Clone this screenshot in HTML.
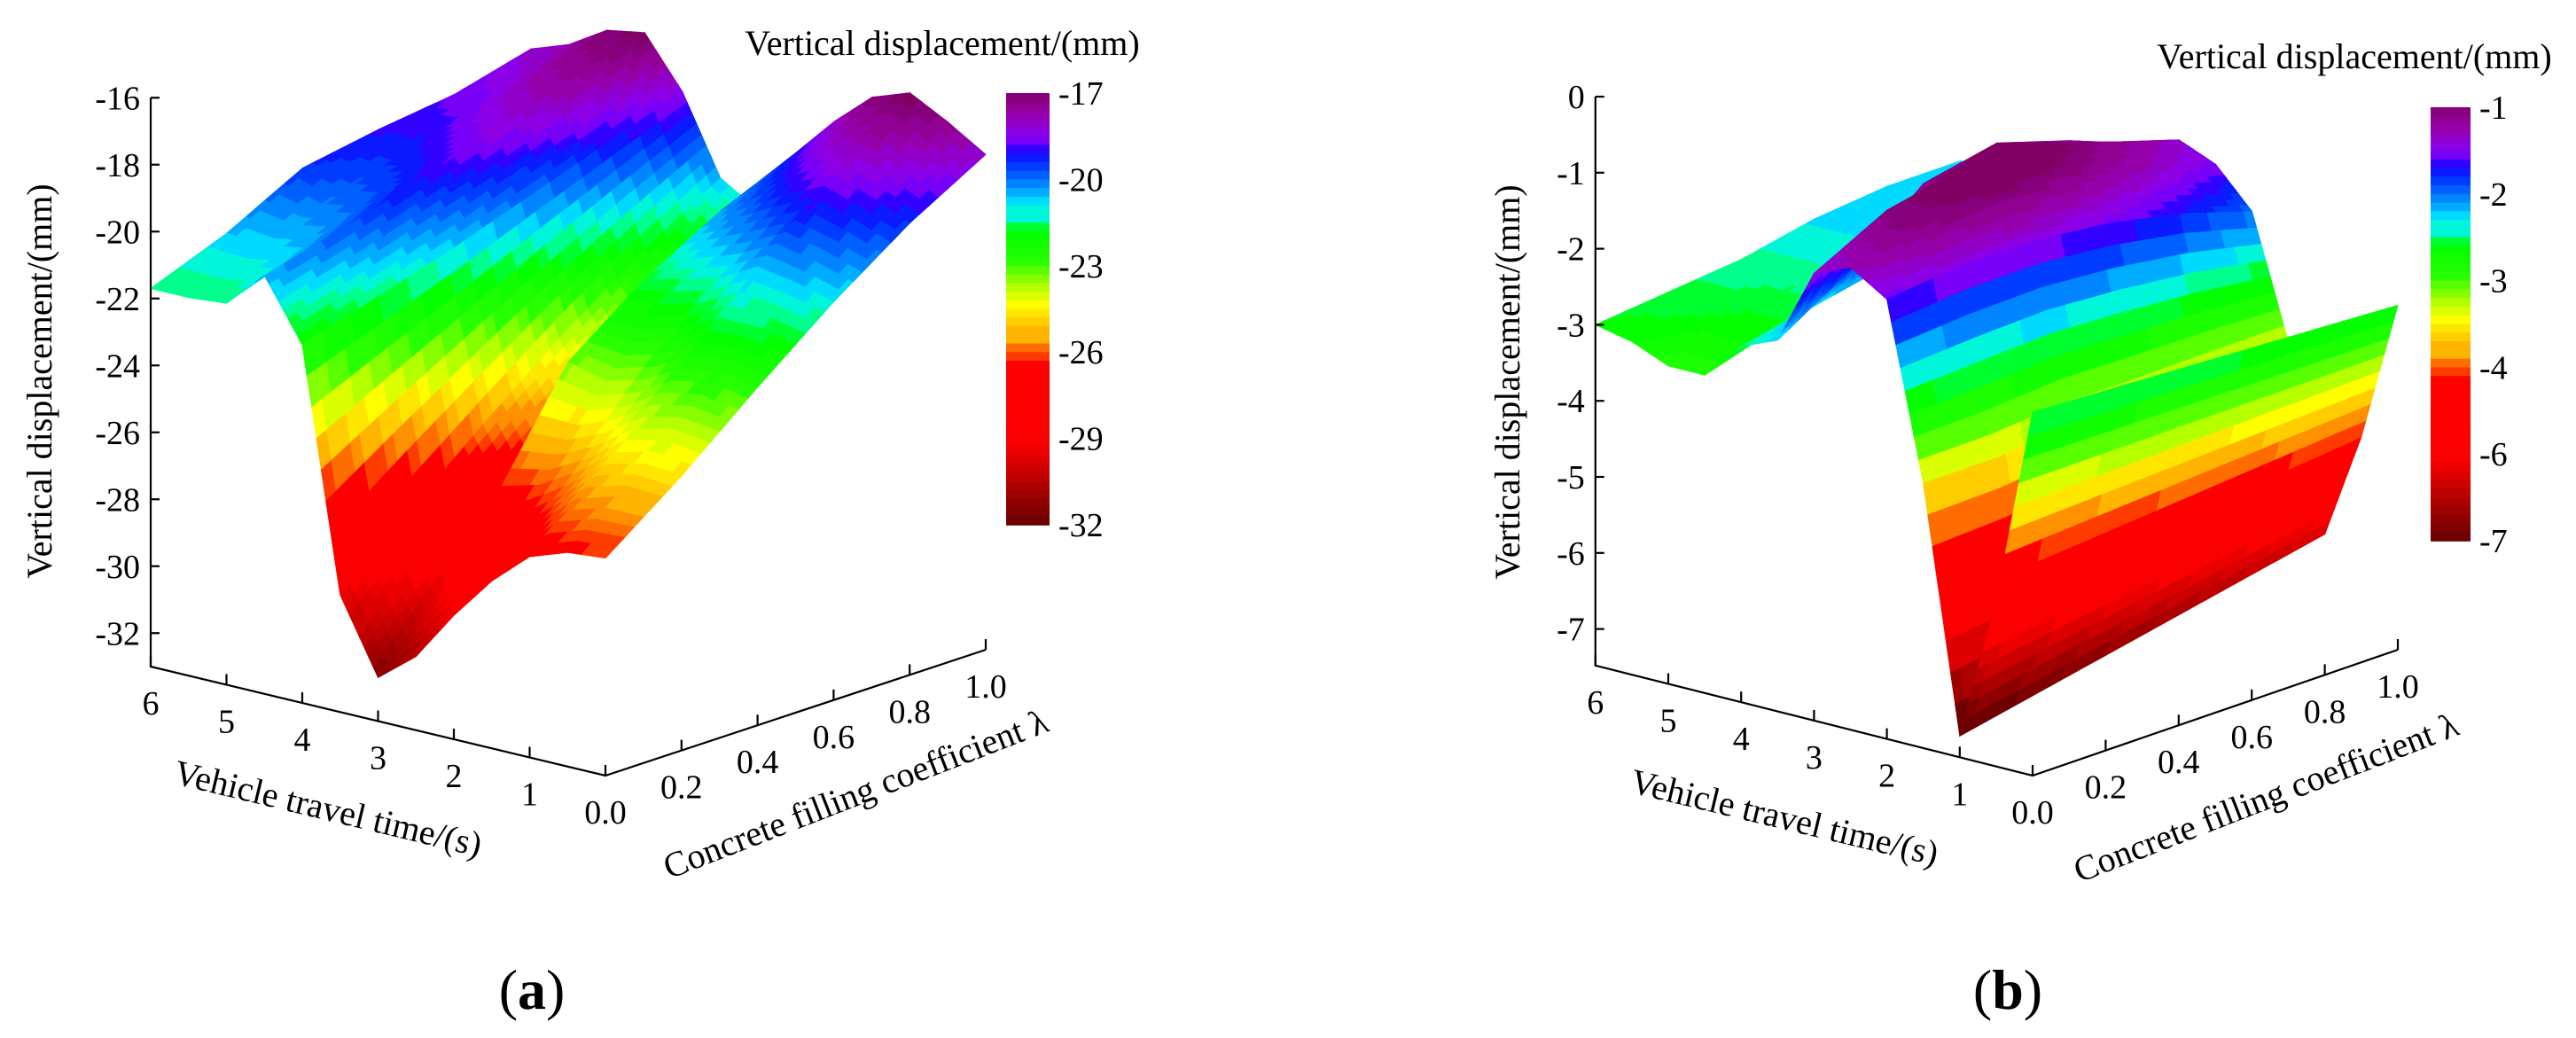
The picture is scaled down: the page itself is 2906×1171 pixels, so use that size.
<!DOCTYPE html>
<html><head><meta charset="utf-8"><style>
html,body{margin:0;padding:0;background:#fff;overflow:hidden;width:2906px;height:1171px;}
svg{display:block;}
svg text{font-family:"Liberation Serif",serif;fill:#000;}
</style></head><body>
<svg id="root" width="2906" height="1171" viewBox="0 0 2906 1171" xmlns="http://www.w3.org/2000/svg">
<g id="pa"></g>
<g id="pb"></g>
</svg>
<script>
// ---- data ----
const timeValues = [0,0.5,1,1.5,2,2.5,3,3.5,4,4.5,5,5.5,6];
const lambdaValues = [0,0.2,0.4,0.6,0.8,1.0];
const surfaceA = [
 [-26.5,-26.6,-27.0,-28.0,-29.3,-30.8,-31.7,-29.5,-22.3,-20.5,-21.6,-21.7,-21.7],
 [-24.8,-24.7,-25.0,-25.9,-26.6,-27.0,-29.2,-27.5,-21.6,-19.9,-20.7,-20.9,-20.8],
 [-22.9,-22.7,-22.9,-23.5,-23.8,-23.5,-27.5,-25.6,-20.9,-19.2,-19.8,-20.0,-19.6],
 [-21.1,-20.8,-20.6,-21.2,-21.5,-21.8,-25.5,-23.8,-20.1,-18.5,-18.9,-19.3,-19.2],
 [-19.5,-19.0,-18.6,-19.1,-19.8,-20.5,-23.5,-22.2,-19.3,-17.7,-18.0,-18.6,-18.9],
 [-18.2,-17.5,-16.9,-17.3,-18.3,-19.5,-21.5,-20.8,-18.5,-17.0,-17.2,-17.9,-18.3]
];
const surfaceB = [
 [-2.70,-5.3,-7.2,-4.0,-1.7,-1.4,-1.6,-2.6,-2.8,-3.3,-3.3,-3.1,-3.0],
 [-2.75,-5.2,-7.0,-4.0,-1.6,-1.1,-1.1,-2.0,-2.6,-3.0,-3.0,-2.9,-2.9],
 [-2.80,-5.1,-6.8,-3.9,-1.6,-1.0,-0.9,-1.2,-2.4,-2.7,-2.8,-2.8,-2.8],
 [-2.85,-5.0,-6.6,-3.9,-1.7,-1.1,-0.9,-1.0,-2.0,-2.5,-2.6,-2.6,-2.6],
 [-2.90,-4.9,-6.4,-3.85,-1.9,-1.4,-1.2,-1.3,-2.1,-2.4,-2.5,-2.5,-2.5],
 [-2.95,-4.8,-6.2,-3.8,-2.2,-1.7,-1.5,-1.8,-2.2,-2.4,-2.5,-2.5,-2.5]
];
const zTicksA = [-16,-18,-20,-22,-24,-26,-28,-30,-32];
const zTicksB = [0,-1,-2,-3,-4,-5,-6,-7];
const timeTicks = [1,2,3,4,5,6];
const lambdaTicks = [0.0,0.2,0.4,0.6,0.8,1.0];
const cbarLabelsA = ["-17","-20","-23","-26","-29","-32"];
const cbarLabelsB = ["-1","-2","-3","-4","-6","-7"];

const NS="http://www.w3.org/2000/svg";
const stops=[[0,[128,0,100]],[0.06,[150,0,170]],[0.1,[140,0,230]],[0.13,[110,0,255]],[0.145,[20,0,255]],[0.18,[0,60,255]],[0.23,[0,150,255]],[0.27,[0,240,255]],[0.3,[0,255,140]],[0.33,[0,255,0]],[0.4,[40,255,0]],[0.46,[180,255,0]],[0.5,[255,255,0]],[0.56,[255,180,0]],[0.61,[255,90,0]],[0.64,[255,0,0]],[0.82,[250,0,0]],[0.9,[190,0,0]],[1,[110,0,0]]];
function cmap(f){f=Math.max(0,Math.min(1,f));f=Math.round(f*50)/50;
 for(let i=1;i<stops.length;i++){if(f<=stops[i][0]){const a=stops[i-1],b=stops[i];const u=(f-a[0])/(b[0]-a[0]);
 const c=a[1].map((v,k)=>Math.round(v+(b[1][k]-v)*u));return `rgb(${c[0]},${c[1]},${c[2]})`;}}return 'rgb(110,0,0)';}
function mk(tag,attrs,parent){const e=document.createElementNS(NS,tag);for(const k in attrs)e.setAttribute(k,attrs[k]);parent.appendChild(e);return e;}

function drawPanel(g,cfg){
 const P=(t,l,z)=>[cfg.ox+t*cfg.tx+l*cfg.lx, cfg.oy+t*cfg.ty+l*cfg.ly-(z-cfg.zmin)*cfg.zs];
 const surf=mk('g',{},g);
 
 
 const polys=[];const S=8;const grid=cfg.data;
 for(let j=0;j<lambdaValues.length-1;j++)for(let i=0;i<timeValues.length-1;i++){
  for(let a=0;a<S;a++)for(let b=0;b<S;b++){
   const pts=[];let zs=0;
   const corners=[[a,b],[a+1,b],[a+1,b+1],[a,b+1]];
   for(const [u,v] of corners){const fu=u/S,fv=v/S;
    const z=grid[j][i]*(1-fu)*(1-fv)+grid[j][i+1]*fu*(1-fv)+grid[j+1][i]*(1-fu)*fv+grid[j+1][i+1]*fu*fv;
    const t=timeValues[i]+(timeValues[i+1]-timeValues[i])*fu;
    const l=lambdaValues[j]+(lambdaValues[j+1]-lambdaValues[j])*fv;
    pts.push(P(t,l,z));zs+=z;}
   const tc=timeValues[i]+(timeValues[i+1]-timeValues[i])*(a+0.5)/S;
   const lc=lambdaValues[j]+(lambdaValues[j+1]-lambdaValues[j])*(b+0.5)/S;
   polys.push({d:tc*cfg.ty+lc*cfg.ly,pts,z:zs/4});
  }}
 polys.sort((p,q)=>p.d-q.d);
 for(const p of polys){const c=cmap((cfg.cmax-p.z)/(cfg.cmax-cfg.cmin));
  const e=mk('polygon',{points:p.pts.map(q=>q[0].toFixed(1)+','+q[1].toFixed(1)).join(' '),fill:c,stroke:c,'stroke-width':'0.9'},surf);
  
  }
 const ax=mk('g',{stroke:'#000','stroke-width':'2.2',fill:'none'},g);
 
 
 const c6=P(6,0,cfg.zmin),c0=P(0,0,cfg.zmin),cl=P(0,1,cfg.zmin),top=P(6,0,cfg.zTop);
 mk('polyline',{points:`${top[0]},${top[1]} ${c6[0]},${c6[1]} ${c0[0]},${c0[1]} ${cl[0]},${cl[1]}`},ax);
 for(const v of cfg.zTicks){const p=P(6,0,v);mk('line',{x1:p[0],y1:p[1],x2:p[0]+10,y2:p[1]},ax);
  const t=mk('text',{x:p[0]-12,y:p[1]+13,'font-size':38,'text-anchor':'end'},g);t.textContent=String(v);
  
  }
 for(const v of timeTicks){const p=P(v,0,cfg.zmin);mk('line',{x1:p[0],y1:p[1],x2:p[0],y2:p[1]-12},ax);
  const t=mk('text',{x:p[0],y:p[1]+54,'font-size':38,'text-anchor':'middle'},g);t.textContent=String(v);
  
  }
 for(const v of lambdaTicks){const p=P(0,v,cfg.zmin);mk('line',{x1:p[0],y1:p[1],x2:p[0],y2:p[1]-12},ax);
  const t=mk('text',{x:p[0],y:p[1]+54,'font-size':38,'text-anchor':'middle'},g);t.textContent=v.toFixed(1);
  
  }
 let t=mk('text',{x:0,y:0,'font-size':40,'text-anchor':'middle',transform:`translate(${cfg.zt[0]},${cfg.zt[1]}) rotate(-90)`},g);
 t.textContent='Vertical displacement/(mm)';
 t=mk('text',{x:0,y:0,'font-size':40,'text-anchor':'middle',transform:`translate(${cfg.tt[0]},${cfg.tt[1]}) rotate(13.5)`},g);
 t.textContent='Vehicle travel time/(s)';
 t=mk('text',{x:0,y:0,'font-size':40,'text-anchor':'middle',transform:`translate(${cfg.lt[0]},${cfg.lt[1]}) rotate(-21.3)`},g);
 t.textContent='Concrete filling coefficient λ';
 const cb=mk('g',{},g);
 const N=50,h=(cfg.cb.y1-cfg.cb.y0)/N;
 for(let k=0;k<N;k++){const c=cmap((k+0.5)/N);mk('rect',{x:cfg.cb.x0,y:cfg.cb.y0+k*h,width:cfg.cb.x1-cfg.cb.x0,height:h+0.8,fill:c},cb);}
 cfg.cbl.forEach((s,k)=>{const y=cfg.cb.y0+k*(cfg.cb.y1-cfg.cb.y0)/(cfg.cbl.length-1);
  const e=mk('text',{x:cfg.cb.x1+10,y:y+13,'font-size':38},g);e.textContent=s;
  });
 t=mk('text',{x:cfg.ct[0],y:cfg.ct[1],'font-size':40,'text-anchor':'middle'},g);
 t.textContent='Vertical displacement/(mm)';
 t=mk('text',{x:cfg.cap[0],y:cfg.cap[1],'font-size':64,'text-anchor':'middle'},g);
 
 t.appendChild(document.createTextNode('('));
 const bs=mk('tspan',{'font-weight':'bold'},t);bs.textContent=cfg.capText;
 t.appendChild(document.createTextNode(')'));
}
drawPanel(document.getElementById('pa'),{data:surfaceA,ox:683,oy:875,tx:-85.5,ty:-20.5,lx:429,ly:-142,zmin:-33,zs:37.75,zTop:-16,
 cmax:-17,cmin:-32,zTicks:zTicksA,zt:[58,430],tt:[367,925],lt:[970,908],
 cb:{x0:1135,x1:1184,y0:105,y1:592},cbl:cbarLabelsA,ct:[1063,62],cap:[600,1138],capText:'a'});
drawPanel(document.getElementById('pb'),{data:surfaceB,ox:2293,oy:875,tx:-82.2,ty:-20.7,lx:412,ly:-142,zmin:-7.48,zs:85.8,zTop:0,
 cmax:-1,cmin:-7,zTicks:zTicksB,zt:[1714,431],tt:[2010,935],lt:[2561,912],
 cb:{x0:2742,x1:2787,y0:121,y1:610},cbl:cbarLabelsB,ct:[2656,77],cap:[2265,1138],capText:'b'});
</script>
</body></html>
